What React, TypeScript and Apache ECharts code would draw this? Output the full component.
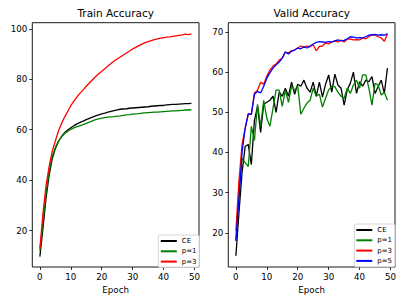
import React, { useEffect, useRef } from "react";
import * as echarts from "echarts";

const epochs = Array.from({ length: 50 }, (_, i) => i);

const trainCE = [9.7, 21, 33, 42, 48.5, 52.5, 55.3, 57.3, 58.8, 59.9, 60.8, 61.6, 62.3, 62.9, 63.4, 64, 64.5, 65, 65.5, 65.9, 66.3, 66.6, 67, 67.3, 67.6, 67.9, 68.1, 68.2, 68.3, 68.5, 68.6, 68.7, 68.8, 68.9, 69, 69.1, 69.3, 69.4, 69.5, 69.6, 69.6, 69.8, 69.9, 70, 70, 70.1, 70.2, 70.3, 70.3, 70.4];
const trainP1 = [12, 23.5, 35, 43.5, 49.5, 53, 55.5, 57.2, 58.5, 59.4, 60.1, 60.7, 61.2, 61.6, 62, 62.5, 63, 63.5, 64, 64.3, 64.6, 64.8, 65, 65.1, 65.2, 65.4, 65.5, 65.7, 65.9, 66, 66.2, 66.3, 66.4, 66.6, 66.7, 66.8, 66.9, 67, 67, 67.1, 67.2, 67.3, 67.4, 67.5, 67.5, 67.6, 67.7, 67.8, 67.8, 67.9];
const trainP3 = [13, 27, 38, 45.5, 51.5, 55.5, 59.5, 62.5, 65, 67.3, 69.5, 71.3, 73, 74.5, 75.8, 77.2, 78.5, 79.8, 81, 82.2, 83.2, 84.2, 85.2, 86.2, 87.2, 88, 88.8, 89.6, 90.4, 91.2, 92, 92.6, 93.3, 93.9, 94.5, 94.9, 95.3, 95.7, 96, 96.3, 96.5, 96.7, 96.8, 97, 97.2, 97.4, 97.6, 97.9, 97.7, 98];

const validCE = [14.3, 25, 35, 41.5, 42, 37, 48, 51.5, 45, 52, 52.5, 53, 54, 50, 55, 54, 56, 54, 57.5, 54.5, 57, 56.5, 58, 56, 55, 57.5, 54, 57.5, 53.8, 57, 59.3, 55, 59.5, 56.8, 56, 51.8, 55.6, 57.2, 60, 54.7, 57.6, 56.5, 58, 57.6, 58.9, 54.7, 56.4, 58, 54.7, 61];
const validP1 = [18, 30, 38.5, 37.5, 36.5, 46.5, 43, 52, 46.5, 53, 48.5, 46.5, 51, 55.5, 55.5, 51.5, 55.5, 52.5, 56.5, 55.5, 56.5, 49.5, 51, 52.3, 53, 56, 54, 54.5, 51.3, 53.5, 55.6, 56.5, 56.4, 55, 54, 53.5, 56, 54.7, 56.8, 58, 56, 59.3, 59.3, 56, 51.8, 57.2, 56.8, 54.3, 55, 53];
const validP3 = [20.5, 33, 42, 46, 49.5, 49.5, 54.8, 55.5, 57.5, 57, 59, 60.5, 61.5, 62, 63, 63.5, 65, 64.8, 65.3, 65.5, 66, 66.5, 66.2, 66.5, 66.3, 66.8, 65.3, 66.4, 66.5, 67.3, 67, 67.5, 67.8, 67.5, 68, 67.5, 68.2, 68.3, 68, 68.1, 68, 68.5, 68.3, 68.8, 69.3, 69.2, 68.8, 68.5, 67.7, 69.5];
const validP5 = [18, 28.5, 40, 46, 49.7, 49.5, 54.5, 55.2, 54.8, 56.5, 58.5, 59.8, 61, 61.8, 62.5, 63.5, 65, 64.5, 65.2, 65.5, 66, 65.8, 66.3, 66, 66.5, 67, 67.4, 67.6, 67.5, 67.4, 67.6, 67.5, 67.8, 68, 67.8, 67.9, 68.3, 68.8, 68.7, 68.5, 68.6, 68.5, 68.8, 69.2, 69.3, 69.4, 69.2, 69.3, 69.2, 69.5];

const xTicks = [0, 10, 20, 30, 40, 50];
const trainYTicks = [20, 40, 60, 80, 100];
const validYTicks = [20, 30, 40, 50, 60, 70];

const FONT = "DejaVu Sans";

function pairs(vals: number[]) {
  return vals.map((v, i) => [epochs[i], v]);
}

export default function App() {
  const ref = useRef<HTMLDivElement>(null);
  useEffect(() => {
    document.body.style.margin = "0";
    const chart = echarts.init(ref.current!, undefined, { renderer: "svg" });
    const grids = [
      { left: 32.3, top: 22.7, width: 166.7, height: 244.3 },
      { left: 228.3, top: 22.7, width: 166.7, height: 244.3 },
    ];
    const xAxis = grids.map((_, i) => ({
      type: "value",
      gridIndex: i,
      min: -2.45,
      max: 51.45,
      name: "Epoch",
      nameLocation: "middle",
      nameGap: 18,
      nameTextStyle: { fontFamily: FONT, fontSize: 8.7, color: "#000" },
      axisLine: { show: false, onZero: false },
      splitLine: { show: false },
      axisTick: { show: true, length: 3, lineStyle: { color: "#000", width: 0.8 }, customValues: xTicks },
      axisLabel: { show: true, margin: 5, fontFamily: FONT, fontSize: 8.7, color: "#000", customValues: xTicks },
    }));
    const yAxis = [
      { min: 5.6, max: 102.4, ticks: trainYTicks },
      { min: 11.5, max: 72.3, ticks: validYTicks },
    ].map((a, i) => ({
      type: "value",
      gridIndex: i,
      min: a.min,
      max: a.max,
      axisLine: { show: false, onZero: false },
      splitLine: { show: false },
      axisTick: { show: true, length: 3, lineStyle: { color: "#000", width: 0.8 }, customValues: a.ticks },
      axisLabel: { show: true, margin: 5, fontFamily: FONT, fontSize: 8.7, color: "#000", customValues: a.ticks },
    }));
    const mk = (name: string, data: number[], color: string, idx: number) => ({
      type: "line",
      name,
      xAxisIndex: idx,
      yAxisIndex: idx,
      data: pairs(data),
      showSymbol: false,
      symbol: "none",
      color,
      lineStyle: { color, width: 1.3 },
      z: 3,
    });
    const legendCommon = {
      orient: "vertical",
      icon: "rect",
      itemWidth: 16,
      itemHeight: 2,
      itemGap: 2.3,
      selectedMode: false,
      backgroundColor: "rgba(255,255,255,0.85)",
      borderColor: "#cccccc",
      borderWidth: 0.8,
      borderRadius: 2,
      z: 10,
      textStyle: { fontFamily: FONT, fontSize: 7, lineHeight: 8, color: "#000" },
    };
    chart.setOption({
      animation: false,
      grid: grids.map((g) => ({ ...g, show: true, borderColor: "#000", borderWidth: 0.9, backgroundColor: "transparent" })),
      xAxis,
      yAxis,
      legend: [
        { ...legendCommon, data: ["CE", "p=1", "p=3"], left: 158.3, top: 235, padding: [2, 3, 2, 2.5] },
        { ...legendCommon, data: ["CE", "p=1", "p=3", "p=5"], left: 354.3, top: 224, padding: [2, 3, 2, 2] },
      ],
      graphic: [
        { type: "text", x: 115.7, y: 13.3, style: { text: "Train Accuracy", fontFamily: FONT, fontSize: 10.5, fill: "#000", textAlign: "center", textVerticalAlign: "middle" } },
        { type: "text", x: 311.7, y: 13.3, style: { text: "Valid Accuracy", fontFamily: FONT, fontSize: 10.5, fill: "#000", textAlign: "center", textVerticalAlign: "middle" } },
      ],
      series: [
        mk("CE", trainCE, "#000000", 0),
        mk("p=1", trainP1, "#008000", 0),
        mk("p=3", trainP3, "#ff0000", 0),
        mk("CE", validCE, "#000000", 1),
        mk("p=1", validP1, "#008000", 1),
        mk("p=3", validP3, "#ff0000", 1),
        mk("p=5", validP5, "#0000ff", 1),
      ],
    });
    return () => chart.dispose();
  }, []);
  return <div ref={ref} style={{ width: 407, height: 305 }} />;
}
